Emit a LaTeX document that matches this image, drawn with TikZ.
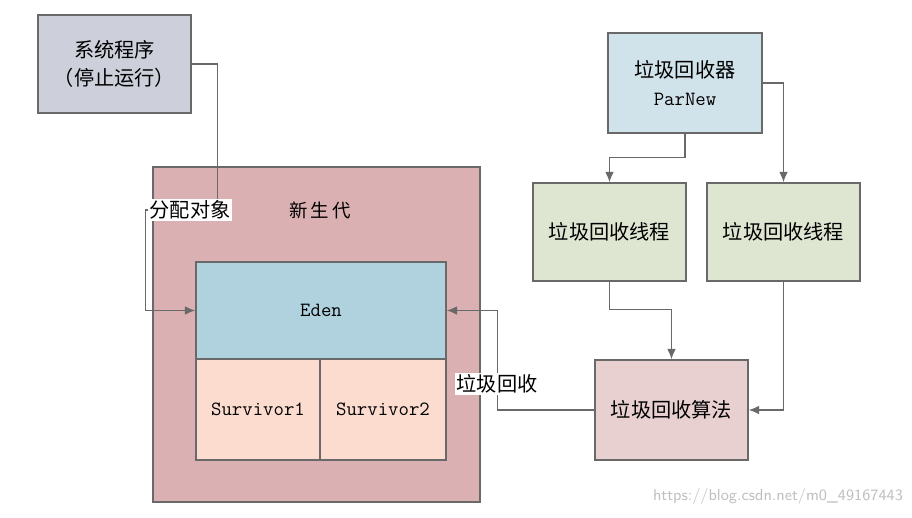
\documentclass[tikz,border=0pt]{standalone}
\usepackage{fontspec}
\newfontfamily\cjk{Noto Sans CJK SC}
\usetikzlibrary{arrows.meta}
\definecolor{sysgray}{RGB}{205,208,218}
\definecolor{youngred}{RGB}{219,176,178}
\definecolor{edenblue}{RGB}{176,209,222}
\definecolor{survpink}{RGB}{251,220,207}
\definecolor{parblue}{RGB}{208,226,234}
\definecolor{threadgreen}{RGB}{222,230,210}
\definecolor{algopink}{RGB}{232,207,208}
\definecolor{linegray}{RGB}{105,105,105}

\begin{document}
\begin{tikzpicture}[x=0.02cm,y=-0.02cm,
	box/.style={draw=linegray,line width=0.8pt,inner sep=0pt,align=center,font=\cjk\fontsize{11.5}{16}\selectfont},
	latinbox/.style={box,font=\ttfamily\fontsize{11.5}{14}\selectfont},
	link/.style={draw=linegray,line width=0.8pt,-{Latex[length=6pt,width=5pt]}},
	linklabel/.style={fill=white,inner sep=1pt,font=\cjk\fontsize{11.5}{13}\selectfont}]
		\useasboundingbox (0,0) rectangle (912,517);
		\node[box,fill=sysgray,minimum width=3.06cm,minimum height=1.96cm] (sys) at (114.5,64) {系统程序\\（停止运行）};
		\node[box,fill=youngred,minimum width=6.54cm,minimum height=6.7cm] (young) at (316.5,334.5) {};
		\node[font=\cjk\fontsize{10.5}{12}\selectfont] (younglabel) at (320,210) {新\,生\,代};
		\node[latinbox,fill=edenblue,minimum width=5cm,minimum height=1.94cm] (eden) at (321,310.5) {Eden};
		\node[latinbox,fill=survpink,minimum width=2.48cm,minimum height=2.02cm] (surv1) at (258,409.5) {Survivor1};
		\node[latinbox,fill=survpink,minimum width=2.52cm,minimum height=2.02cm] (surv2) at (383,409.5) {Survivor2};
		\node[box,fill=parblue,minimum width=3.08cm,minimum height=2cm] (parnew) at (685,83) {垃圾回收器\\{\ttfamily\fontsize{11.5}{14}\selectfont ParNew}};
		\node[box,fill=threadgreen,minimum width=3.06cm,minimum height=1.96cm] (thread1) at (609.5,232) {垃圾回收线程};
		\node[box,fill=threadgreen,minimum width=3.06cm,minimum height=1.96cm] (thread2) at (783.5,232) {垃圾回收线程};
		\node[box,fill=algopink,minimum width=3.06cm,minimum height=2cm] (algo) at (671.5,410) {垃圾回收算法};
		\draw[link] (sys.east) -- ++(26,0) -- ++(0,146) -- ++(-72,0) |- (eden.west);
		\node[linklabel] (alloc) at (190,210) {分配对象};
		\draw[link] (parnew.south) -- ++(0,24) -| (thread1.north);
		\draw[link] (parnew.east) -| (thread2.north);
		\draw[link] (thread1.south) -- ++(0,28) -| (algo.north);
		\draw[link] (thread2.south) |- (algo.east);
		\draw[link] (algo.west) -- ++(-97,0) |- (eden.east);
		\node[linklabel] (collect) at (497,384) {垃圾回收};
		\node[font=\sffamily\fontsize{9}{11}\selectfont,text=black!25] (mark) at (778,497) {https://blog.csdn.net/m0\_49167443};
\end{tikzpicture}
\end{document}
